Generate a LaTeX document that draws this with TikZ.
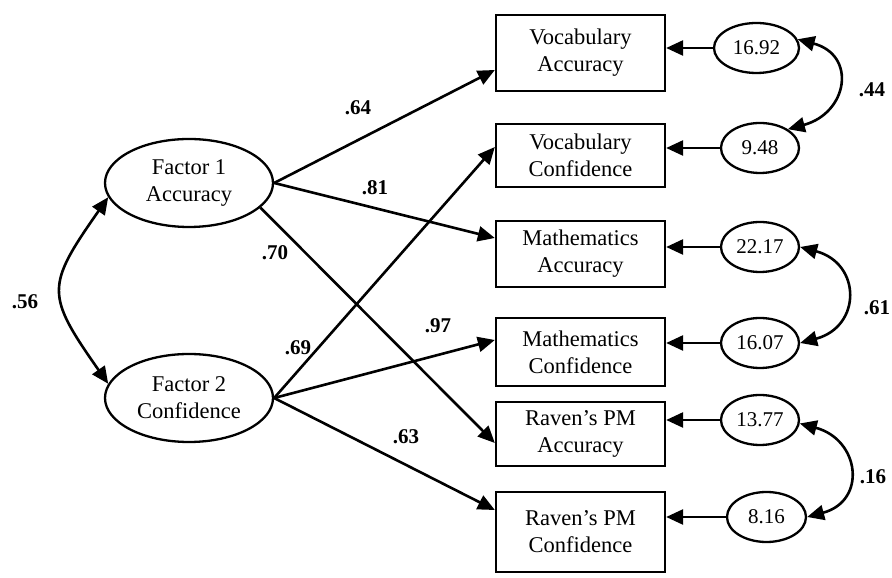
\documentclass[tikz,border=0pt]{standalone}
\usepackage{fontspec}
\setmainfont{Liberation Serif}
\usetikzlibrary{arrows.meta,shapes.geometric}
\begin{document}
\begin{tikzpicture}[x=1pt,y=1pt,
 lat/.style={ellipse,draw,line width=2.3pt,minimum width=168pt,minimum height=88pt,inner sep=0pt,align=center,font=\fontsize{22.5}{27}\selectfont},
 obs/.style={rectangle,draw,line width=2.3pt,minimum width=169pt,inner sep=0pt,align=center,font=\fontsize{22.5}{27}\selectfont},
 err/.style={ellipse,draw,line width=2.3pt,minimum width=78pt,minimum height=50pt,inner sep=0pt,font=\fontsize{21}{25}\selectfont},
 arr/.style={-{Triangle[length=17pt,width=15pt]},line width=2.6pt},
 dbl/.style={{Triangle[length=17pt,width=15pt]}-{Triangle[length=17pt,width=15pt]},line width=2.6pt},
 lbl/.style={font=\fontsize{21}{24}\selectfont\bfseries,inner sep=0pt}]
\useasboundingbox (0,0) rectangle (892,578);
% latent factors
\node[lat] (f1) at (189,395) {Factor 1\\Accuracy};
\node[lat] (f2) at (189,180) {Factor 2\\Confidence};
% observed
\node[obs,minimum height=76pt] (b1) at (580.5,525) {Vocabulary\\Accuracy};
\node[obs,minimum height=63pt] (b2) at (580.5,422.5) {Vocabulary\\Confidence};
\node[obs,minimum height=66pt] (b3) at (580.5,324) {Mathematics\\Accuracy};
\node[obs,minimum height=68pt] (b4) at (580.5,226) {Mathematics\\Confidence};
\node[obs,minimum height=64pt] (b5) at (580.5,144) {Raven’s PM\\Accuracy};
\node[obs,minimum height=80pt] (b6) at (580.5,46) {Raven’s PM\\Confidence};
% errors
\node[err,minimum width=85pt] (e1) at (756.5,530) {16.92};
\node[err] (e2) at (760,430) {9.48};
\node[err] (e3) at (760,331) {22.17};
\node[err] (e4) at (760,235) {16.07};
\node[err] (e5) at (760,158) {13.77};
\node[err,minimum width=79pt] (e6) at (766.5,61) {8.16};
% error arrows
\foreach \i in {1,...,6}{\draw[arr] (e\i.west) -- (e\i.west -| b\i.east);}
% loadings
\draw[arr] (f1.east) -- ([yshift=-17pt]b1.west);
\draw[arr] (f1.east) -- ([yshift=16pt]b3.west);
\draw[arr] (f1.-19) -- ([yshift=-9pt]b5.west);
\draw[arr] (f2.east) -- ([yshift=8.5pt]b2.west);
\draw[arr] (f2.east) -- ([yshift=12pt]b4.west);
\draw[arr] (f2.east) -- ([yshift=22pt]b6.west);
% covariances
\draw[dbl] (f1.190) to[out=235,in=125,looseness=1.5] (f2.170);
\draw[dbl] (e1.12) to[out=-15,in=15,looseness=1.75] (e2.34);
\draw[dbl] (e3.east) to[out=-15,in=15,looseness=1.7] (e4.east);
\draw[dbl] (e5.-5) to[out=-15,in=15,looseness=1.7] (e6.east);
% labels
\node[lbl] (l64) at (358,470) {.64};
\node[lbl] (l81) at (375,390) {.81};
\node[lbl] (l70) at (275,325) {.70};
\node[lbl] (l69) at (298,230) {.69};
\node[lbl] (l97) at (438,252) {.97};
\node[lbl] (l63) at (406,141) {.63};
\node[lbl] (l56) at (25,276) {.56};
\node[lbl] (l44) at (872,488) {.44};
\node[lbl] (l61) at (877,270) {.61};
\node[lbl] (l16) at (873,101) {.16};
\end{tikzpicture}
\end{document}
